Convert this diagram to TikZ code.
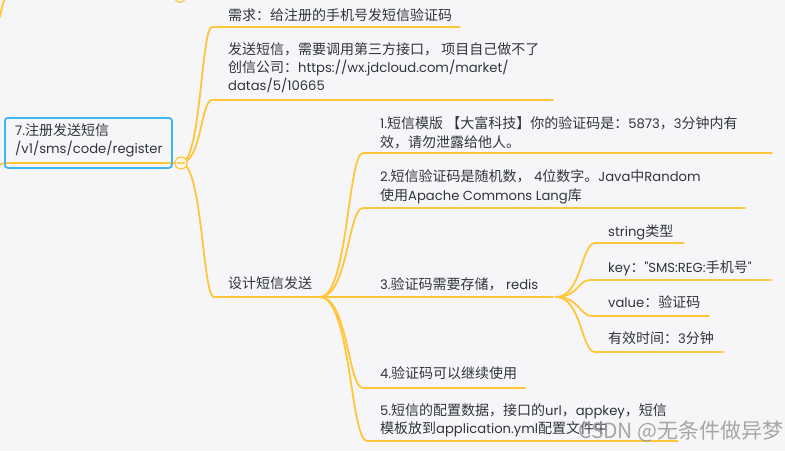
\documentclass[tikz,border=0pt]{standalone}
\usepackage{fontspec}
\newfontfamily\pfont{Poppins}[Scale=0.94]
\newfontfamily\cjkfont{Noto Sans CJK SC}
\usetikzlibrary{calc}
\definecolor{bgc}{HTML}{F6F6F9}
\definecolor{ylw}{HTML}{FFC63A}
\definecolor{blu}{HTML}{3DB6F2}
\definecolor{txt}{HTML}{30353D}
\newcommand\C[1]{{\cjkfont #1}}
\newcommand\brch[3]{\path ($(#1)!0.65!(#2)$) coordinate (mid);
  \draw[yline] (#1) .. controls (mid |- #1) and (mid |- #2) .. (#2) -- (#3);}
\begin{document}
\begin{tikzpicture}[x=1pt,y=-1pt,
  yline/.style={draw=ylw, line width=1.8pt, line cap=round},
  txtnode/.style={anchor=north west, inner sep=0pt, align=left, text=txt, font=\pfont\fontsize{14}{18.5}\selectfont}]
\fill[bgc] (0,0) rectangle (785,451);
\useasboundingbox (0,0) rectangle (785,451);
\clip (0,0) rectangle (785,451);
% coordinates
\coordinate (J0) at (181,163);
\coordinate (L0) at (-10,182);
\coordinate (L1) at (6,163);
\coordinate (T0) at (0,17);
\coordinate (T1) at (5,-2);
\coordinate (A1) at (212,27);  \coordinate (A2) at (460,27);
\coordinate (B1) at (212,100); \coordinate (B2) at (553,100);
\coordinate (C1) at (214,297); \coordinate (J1) at (320,297);
\coordinate (D1s) at (363,153); \coordinate (D1e) at (772,153);
\coordinate (D2s) at (363,208); \coordinate (D2e) at (745,208);
\coordinate (J2) at (553,297);
\coordinate (D4s) at (363,388); \coordinate (D4e) at (525,388);
\coordinate (D5s) at (367,441); \coordinate (D5e) at (678,441);
\coordinate (J2b) at (556,297);
\coordinate (E1s) at (595,243); \coordinate (E1e) at (684,243);
\coordinate (E2s) at (590,280); \coordinate (E2e) at (771,280);
\coordinate (E3s) at (592,316); \coordinate (E3e) at (709,316);
\coordinate (E4s) at (595,352); \coordinate (E4e) at (723,352);
% connectors
\draw[yline] (L0) to[out=60,in=180] (L1) -- (J0);
\draw[yline] (T0) to[out=80,in=-110] (T1);
\brch{J0}{A1}{A2}
\brch{J0}{B1}{B2}
\brch{J0}{C1}{J1}
\brch{J1}{D1s}{D1e}
\brch{J1}{D2s}{D2e}
\draw[yline] (J1) -- (J2);
\brch{J1}{D4s}{D4e}
\brch{J1}{D5s}{D5e}
\brch{J2b}{E1s}{E1e}
\brch{J2b}{E2s}{E2e}
\brch{J2b}{E3s}{E3e}
\brch{J2b}{E4s}{E4e}
% collapse circles
\node[circle, draw=ylw, fill=bgc, line width=1.2pt, minimum size=11pt, inner sep=0pt] (ctop) at (180,-3) {};
\node[circle, draw=ylw, fill=ylw!12!white, line width=1.2pt, minimum size=12pt, inner sep=0pt] (cj) at (J0) {};
\draw[ylw!80, line width=1.5pt] ([xshift=2.5pt]cj.west) -- ([xshift=-2.5pt]cj.east);
% root
\node[draw=blu, line width=1.8pt, rounded corners=3pt, minimum width=167pt, minimum height=50pt, anchor=north west, inner sep=0pt] (root) at (4,117) {};
\node[txtnode, font=\pfont\fontsize{14}{18}\selectfont] (roottxt) at (15,123) {\strut 7.\C{注册发送短信}\\\strut /v1/sms/code/register\strut};
% level 1
\node[txtnode] (nA) at (228,7) {\strut\C{需求：给注册的手机号发短信验证码}\strut};
\node[txtnode, font=\pfont\fontsize{14}{18}\selectfont] (nB) at (228,42) {\strut\C{发送短信，需要调用第三方接口， 项目自己做不了}\\\strut\C{创信公司：}https://wx.jdcloud.com/market/\\\strut datas/5/10665\strut};
\node[txtnode] (nC) at (228,275) {\strut\C{设计短信发送}\strut};
% level 2
\node[txtnode, font=\pfont\fontsize{14}{19}\selectfont] (nD1) at (380,115) {\strut 1.\C{短信模版 【大富科技】你的验证码是：}5873\C{，}3\C{分钟内有}\\\strut\C{效，请勿泄露给他人。}\strut};
\node[txtnode, font=\pfont\fontsize{14}{19}\selectfont] (nD2) at (380,168) {\strut 2.\C{短信验证码是随机数，} 4\C{位数字。}Java\C{中}Random\\\strut\C{使用}Apache Commons Lang\C{库}\strut};
\node[txtnode] (nD3) at (380,276) {\strut 3.\C{验证码需要存储，} redis\strut};
\node[txtnode] (nD4) at (380,365) {\strut 4.\C{验证码可以继续使用}\strut};
\node[txtnode] (nD5) at (380,402) {\strut 5.\C{短信的配置数据，接口的}url\C{，}appkey\C{，短信}\\\strut\C{模板放到}application.yml\C{配置文件中}\strut};
% level 3
\node[txtnode] (nE1) at (608,223) {\strut string\C{类型}\strut};
\node[txtnode] (nE2) at (608,259) {\strut key\C{：}"SMS:REG:\C{手机号}"\strut};
\node[txtnode] (nE3) at (608,294) {\strut value\C{：验证码}\strut};
\node[txtnode] (nE4) at (608,330) {\strut\C{有效时间：}3\C{分钟}\strut};
% watermark
\node[anchor=west, inner sep=0pt, text=gray!80, opacity=0.85, font=\cjkfont\fontsize{21}{24}\selectfont] (wm) at (578,431) {CSDN @无条件做异梦};
\end{tikzpicture}
\end{document}
